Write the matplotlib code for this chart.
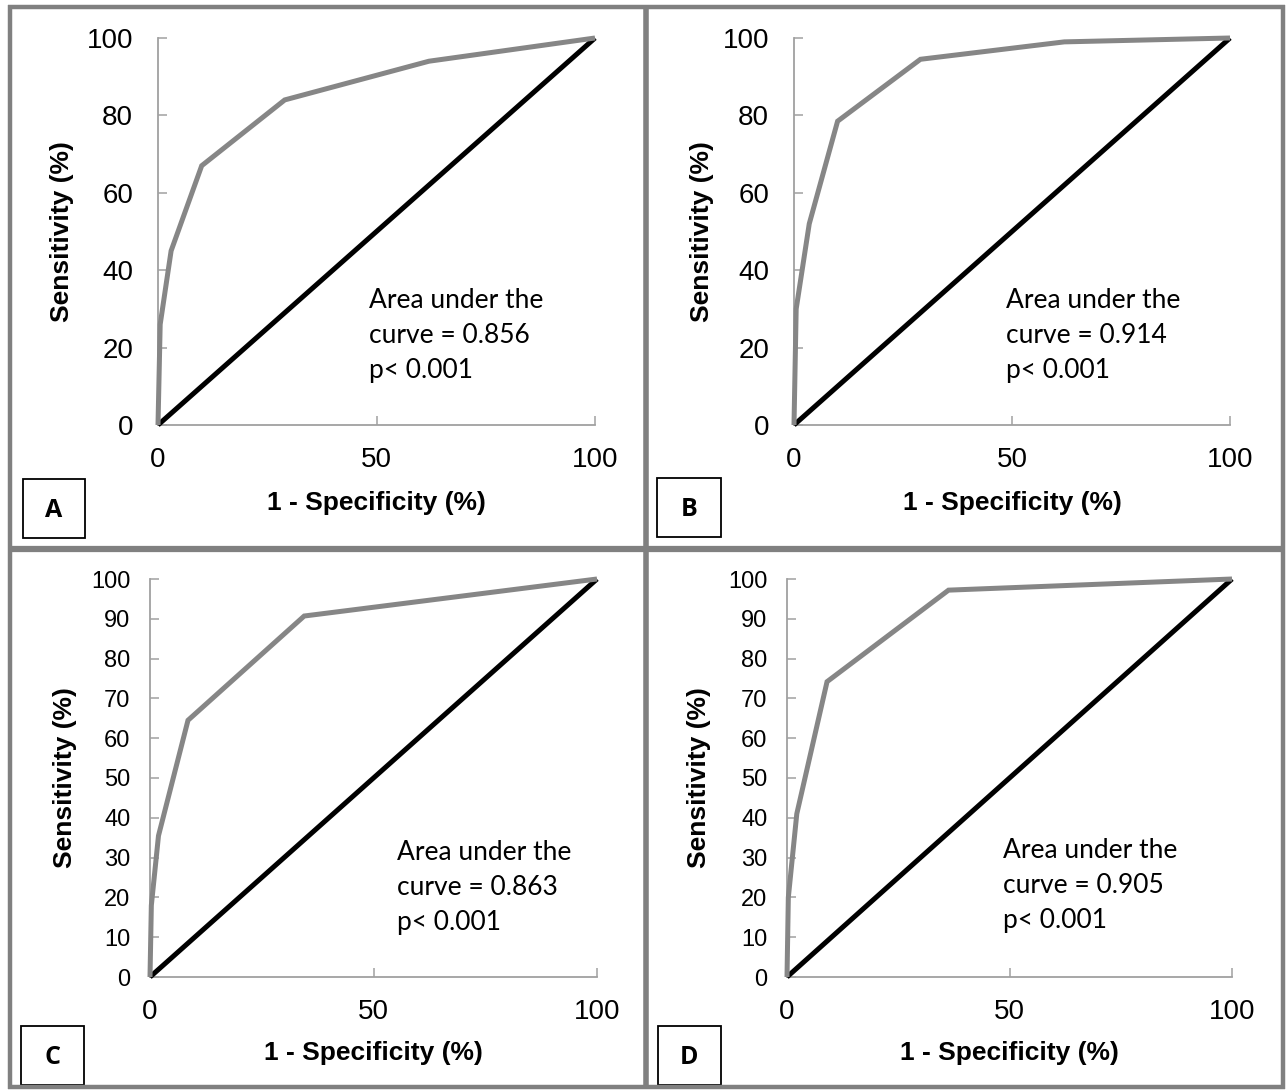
import matplotlib
matplotlib.use("Agg")
import matplotlib.pyplot as plt
from matplotlib.patches import Rectangle

# ---------------- data ----------------
a_fpr = [0, 0.5, 3, 10, 29, 62, 100]
a_sens = [0, 26, 45, 67, 84, 94, 100]
b_fpr = [0, 0.5, 3.5, 10, 29, 62, 100]
b_sens = [0, 30, 52, 78.5, 94.5, 99, 100]
c_fpr = [0, 0.3, 1.9, 8.5, 34.5, 100]
c_sens = [0, 18, 35.5, 64.5, 90.7, 100]
d_fpr = [0, 0.3, 2.2, 9, 36.3, 100]
d_sens = [0, 20, 41, 74.2, 97.2, 100]
ref_line = [0, 100]

panel_letters = ["A", "B", "C", "D"]
auc_values = ["0.856", "0.914", "0.863", "0.905"]
p_text = "p< 0.001"
xlabel = "1 - Specificity (%)"
ylabel = "Sensitivity (%)"
x_ticks = [0, 50, 100]
y_ticks_top = [0, 20, 40, 60, 80, 100]
y_ticks_bottom = [0, 10, 20, 30, 40, 50, 60, 70, 80, 90, 100]

# ---------------- layout ----------------
W, H = 1287, 1091
fig = plt.figure(figsize=(W / 100, H / 100), dpi=100)
fig.patch.set_facecolor("white")

GREY = "#868686"
AXGREY = "#a0a0a0"

# background frame axes (pixel coordinates)
bg = fig.add_axes([0, 0, 1, 1])
bg.set_xlim(0, W)
bg.set_ylim(H, 0)
bg.axis("off")
border_kw = dict(color="#808080", solid_capstyle="butt")
bg.plot([10, 10], [5, 1089], lw=3.2, **border_kw)
bg.plot([1283, 1283], [5, 1089], lw=3.2, **border_kw)
bg.plot([8, 1285], [7, 7], lw=3.2, **border_kw)
bg.plot([8, 1285], [1087, 1087], lw=3.2, **border_kw)
bg.plot([645.5, 645.5], [5, 1089], lw=4.0, **border_kw)
bg.plot([8, 1285], [549, 549], lw=4.5, **border_kw)

# letter boxes (pixel coords: x0, y0, w, h)
boxes = [(23, 479, 62, 59), (657, 478, 64, 59), (21, 1026, 63, 59), (658, 1026, 63, 59)]
for (bx, by, bw, bh), letter in zip(boxes, panel_letters):
    bg.add_patch(Rectangle((bx, by), bw, bh, fill=False, ec="black", lw=1.3))
    bg.text(bx + bw / 2, by + bh / 2 + 2, letter, ha="center", va="center",
            fontsize=18, fontweight="bold", family=["Open Sans", "DejaVu Sans"])


def px_axes(l, r, t, b):
    return fig.add_axes([l / W, 1 - b / H, (r - l) / W, (b - t) / H])


panels = [
    dict(rect=(158, 595, 38, 425), fpr=a_fpr, sens=a_sens, yt=y_ticks_top, yfs=20,
         txt=(0.483, 0.353), ylab_x=-0.192, xlab_y=-0.17),
    dict(rect=(794, 1230, 38, 425), fpr=b_fpr, sens=b_sens, yt=y_ticks_top, yfs=20,
         txt=(0.486, 0.353), ylab_x=-0.184, xlab_y=-0.17),
    dict(rect=(150, 597, 579, 977), fpr=c_fpr, sens=c_sens, yt=y_ticks_bottom, yfs=17,
         txt=(0.553, 0.345), ylab_x=-0.164, xlab_y=-0.16),
    dict(rect=(787, 1232, 579, 977), fpr=d_fpr, sens=d_sens, yt=y_ticks_bottom, yfs=17,
         txt=(0.485, 0.350), ylab_x=-0.171, xlab_y=-0.16),
]

tick_font = ["Liberation Sans", "DejaVu Sans"]
for p, auc in zip(panels, auc_values):
    ax = px_axes(*p["rect"])
    ax.set_xlim(0, 100)
    ax.set_ylim(0, 100)
    ax.patch.set_alpha(0)
    for s in ["top", "right"]:
        ax.spines[s].set_visible(False)
    for s in ["left", "bottom"]:
        ax.spines[s].set_color(AXGREY)
        ax.spines[s].set_linewidth(1.3)
    ax.plot(ref_line, ref_line, color="black", lw=3.6, solid_capstyle="butt", clip_on=False, zorder=3)
    ax.plot(p["fpr"], p["sens"], color=GREY, lw=3.6, solid_joinstyle="miter",
            solid_capstyle="butt", clip_on=False, zorder=4)
    ax.set_xticks(x_ticks)
    ax.set_yticks(p["yt"])
    ax.tick_params(direction="in", length=6.5, width=1.1, color=AXGREY)
    ax.tick_params(axis="x", pad=16, labelsize=20)
    ax.tick_params(axis="y", pad=18 if p["yfs"] == 20 else 14, labelsize=p["yfs"])
    for lab in ax.get_xticklabels() + ax.get_yticklabels():
        lab.set_family(tick_font)
    ax.set_xlabel(xlabel, fontsize=19, fontweight="bold", family=tick_font)
    ax.set_ylabel(ylabel, fontsize=19, fontweight="bold", family=tick_font)
    ax.xaxis.set_label_coords(0.5, p["xlab_y"])
    ax.yaxis.set_label_coords(p["ylab_x"], 0.5)
    tx, ty = p["txt"]
    ax.text(tx, ty, "Area under the\ncurve = " + auc + "\n" + p_text, transform=ax.transAxes,
            ha="left", va="top", fontsize=19, linespacing=1.5, family=["Lato", "DejaVu Sans"])

fig.savefig("out.png", dpi=100, facecolor="white")
